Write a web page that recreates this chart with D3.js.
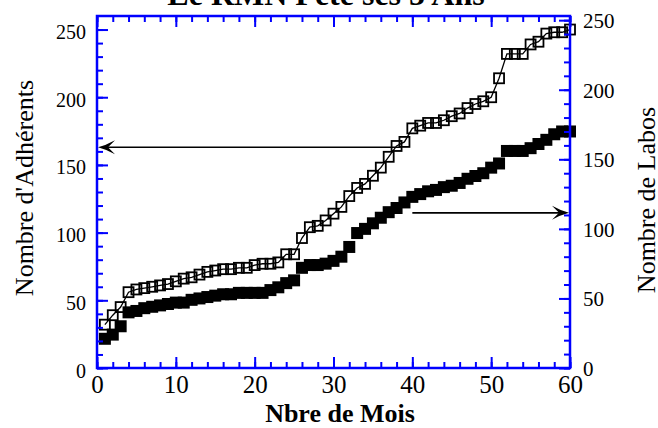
<!DOCTYPE html>
<html>
<head>
<meta charset="utf-8">
<script src="https://cdn.jsdelivr.net/npm/d3@7"></script>
<style>
  html, body { margin: 0; padding: 0; background: #fff; }
  svg { display: block; font-family: "Liberation Serif", "Times New Roman", serif; }
</style>
</head>
<body>
<svg id="chart" width="658" height="428"></svg>
<script>
// ---- Data ----
const title = "Le RMN Fête ses 5 Ans";
const xLabel = "Nbre de Mois";
const yLeftLabel = "Nombre d'Adhérents";
const yRightLabel = "Nombre de Labos";

const months = d3.range(1, 61);
const adherents = [
  32, 39, 45, 56, 58, 59, 60, 61, 62, 64,
  66, 67, 69, 71, 72, 73, 73, 74, 74, 76,
  77, 77, 78, 84, 84, 96, 104, 105, 109, 114,
  119, 127, 133, 136, 142, 148, 156, 164, 167, 177,
  179, 181, 181, 183, 186, 188, 192, 195, 197, 200,
  214, 232, 232, 232, 239, 241, 247, 248, 248, 250
];
const labos = [
  21, 24, 30, 40, 41, 43, 44, 45, 46, 47,
  47, 49, 50, 51, 52, 53, 53, 54, 54, 54,
  54, 56, 58, 61, 63, 72, 74, 74, 75, 77,
  80, 87, 97, 100, 104, 108, 112, 115, 119, 123,
  125, 127, 128, 130, 131, 133, 136, 138, 140, 144,
  147, 156, 156, 156, 158, 161, 164, 168, 170, 170
];

const xDomain = [0, 60];
const yLeftDomain = [0, 260];
const yRightDomain = [0, 253];
const xMajorTicks = [0, 10, 20, 30, 40, 50, 60];
const xMinorTicks = d3.range(0, 61, 2);
const yMajorTicks = [0, 50, 100, 150, 200, 250];
const yMinorTicks = d3.range(0, 251, 10);

// arrows: [month where it starts, value on its own axis]
const arrowLeft = { month: 38.5, value: 163 };
const arrowRight = { month: 40, value: 111.5 };

// ---- Layout ----
const W = 658, H = 428;
const m = { left: 97, right: 88, top: 16, bottom: 60 };
const x0 = m.left, x1 = W - m.right, y0 = H - m.bottom, y1 = m.top;

const svg = d3.select("#chart");
const x = d3.scaleLinear(xDomain, [x0, x1]);
const yL = d3.scaleLinear(yLeftDomain, [y0, y1]);
const yR = d3.scaleLinear(yRightDomain, [y0, y1]);

const blue = "#0000ff";
const serif = "'Liberation Serif', 'Times New Roman', serif";

// ---- Data marks ----
const lineL = d3.line().x((d, i) => x(months[i])).y(d => yL(d));
svg.append("path").datum(adherents).attr("d", lineL)
  .attr("fill", "none").attr("stroke", "#000").attr("stroke-width", 1.3);

const fs = 12;
svg.append("g").selectAll("rect").data(labos).join("rect")
  .attr("x", (d, i) => x(months[i]) - fs / 2)
  .attr("y", d => yR(d) - fs / 2)
  .attr("width", fs).attr("height", fs)
  .attr("fill", "#000");

const os = 10;
svg.append("g").selectAll("rect").data(adherents).join("rect")
  .attr("x", (d, i) => x(months[i]) - os / 2)
  .attr("y", d => yL(d) - os / 2)
  .attr("width", os).attr("height", os)
  .attr("fill", "none").attr("stroke", "#000").attr("stroke-width", 1.8);

// ---- Arrows ----
function arrowHead(tx, ty, dir) {
  const L = 17, Wd = 7, N = 10;
  const p = d3.path();
  p.moveTo(tx, ty);
  p.quadraticCurveTo(tx - dir * 8, ty - 2, tx - dir * L, ty - Wd);
  p.lineTo(tx - dir * N, ty);
  p.lineTo(tx - dir * L, ty + Wd);
  p.quadraticCurveTo(tx - dir * 8, ty + 2, tx, ty);
  p.closePath();
  return p.toString();
}
const aly = yL(arrowLeft.value);
svg.append("line").attr("x1", x(arrowLeft.month)).attr("x2", x0 + 8)
  .attr("y1", aly).attr("y2", aly).attr("stroke", "#000").attr("stroke-width", 1.6);
svg.append("path").attr("d", arrowHead(x0 + 1, aly, -1)).attr("fill", "#000");

const ary = yR(arrowRight.value);
svg.append("line").attr("x1", x(arrowRight.month)).attr("x2", x1 - 8)
  .attr("y1", ary).attr("y2", ary).attr("stroke", "#000").attr("stroke-width", 1.6);
svg.append("path").attr("d", arrowHead(x1 - 1, ary, 1)).attr("fill", "#000");

// ---- Axes ----
function styleAxis(size) {
  return g => {
    g.select(".domain").remove();
    g.selectAll(".tick line").attr("stroke", blue).attr("stroke-width", 2);
    g.selectAll(".tick text").attr("fill", "#000")
      .style("font-family", serif)
      .style("font-size", size + "px");
  };
}
// bottom
svg.append("g").attr("transform", `translate(0,${y0})`)
  .call(d3.axisBottom(x).tickValues(xMinorTicks).tickSize(-6).tickFormat(""))
  .call(styleAxis(24));
svg.append("g").attr("transform", `translate(0,${y0})`)
  .call(d3.axisBottom(x).tickValues(xMajorTicks).tickSize(-11).tickPadding(5).tickFormat(d3.format("d")))
  .call(styleAxis(25))
  .call(g => g.selectAll(".tick text").attr("dy", "0.8em"));
// top
svg.append("g").attr("transform", `translate(0,${y1})`)
  .call(d3.axisTop(x).tickValues(xMinorTicks).tickSize(-6).tickFormat(""))
  .call(styleAxis(24));
svg.append("g").attr("transform", `translate(0,${y1})`)
  .call(d3.axisTop(x).tickValues(xMajorTicks).tickSize(-11).tickFormat(""))
  .call(styleAxis(24));
// left
svg.append("g").attr("transform", `translate(${x0},0)`)
  .call(d3.axisLeft(yL).tickValues(yMinorTicks).tickSize(-6).tickFormat(""))
  .call(styleAxis(20));
svg.append("g").attr("transform", `translate(${x0},0)`)
  .call(d3.axisLeft(yL).tickValues(yMajorTicks).tickSize(-11).tickPadding(11).tickFormat(d3.format("d")))
  .call(styleAxis(20))
  .call(g => g.selectAll(".tick text").attr("dy", "0.45em"));
// right
svg.append("g").attr("transform", `translate(${x1},0)`)
  .call(d3.axisRight(yR).tickValues(yMinorTicks).tickSize(-6).tickFormat(""))
  .call(styleAxis(21));
svg.append("g").attr("transform", `translate(${x1},0)`)
  .call(d3.axisRight(yR).tickValues(yMajorTicks).tickSize(-11).tickPadding(13).tickFormat(d3.format("d")))
  .call(styleAxis(21))
  .call(g => g.selectAll(".tick text").attr("dy", "0.36em"));

// frame
svg.append("rect").attr("x", x0).attr("y", y1)
  .attr("width", x1 - x0).attr("height", y0 - y1)
  .attr("fill", "none").attr("stroke", blue).attr("stroke-width", 2.5);

// ---- Titles ----
svg.append("text").attr("x", 326).attr("y", 5)
  .attr("text-anchor", "middle").attr("font-weight", "bold")
  .attr("font-size", 32).text(title);
svg.append("text").attr("x", 340).attr("y", 422)
  .attr("text-anchor", "middle").attr("font-weight", "bold")
  .attr("font-size", 26).text(xLabel);
svg.append("text").attr("transform", "translate(33,188) rotate(-90)")
  .attr("text-anchor", "middle").attr("font-size", 26).text(yLeftLabel);
svg.append("text").attr("transform", "translate(655,200) rotate(-90)")
  .attr("text-anchor", "middle").attr("font-size", 26).text(yRightLabel);
</script>
</body>
</html>
